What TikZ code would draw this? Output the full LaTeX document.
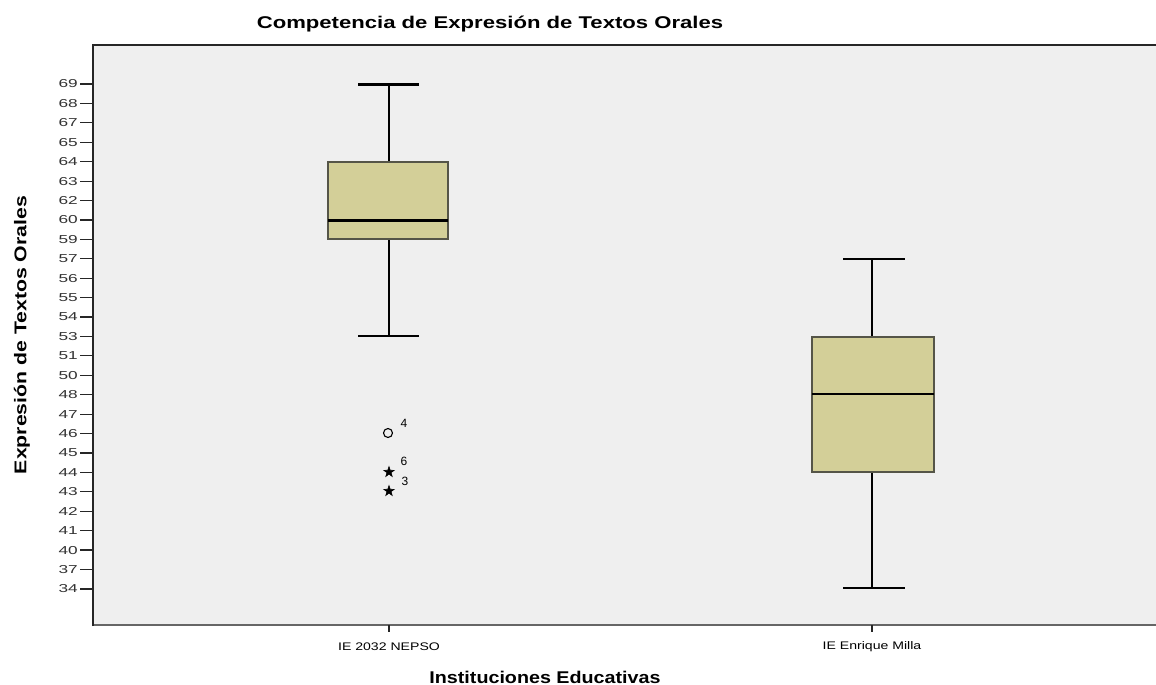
\documentclass[tikz,border=0pt]{standalone}
\usepackage{fontspec}
\setmainfont{Liberation Sans}
\usetikzlibrary{shapes.geometric}
\definecolor{plotbg}{HTML}{EFEFEF}
\definecolor{boxfill}{HTML}{D3CF98}
\definecolor{boxline}{HTML}{555548}
\begin{document}
\begin{tikzpicture}[x=1pt,y=-1pt,
  ticklab/.style={anchor=east,font=\fontsize{11.5}{12}\selectfont,text=black!80,inner sep=0pt},
  tickmark/.style={line width=1.2pt,black!85},
  boxstyle/.style={fill=boxfill,draw=boxline,line width=1.2pt},
  whisk/.style={line width=1.6pt,black},
  medline/.style={line width=3pt,black},
  catlab/.style={font=\fontsize{11}{12}\selectfont,inner sep=0pt},
  outlab/.style={font=\fontsize{12}{13}\selectfont,inner sep=0pt},
  bigtext/.style={font=\bfseries\fontsize{17}{20}\selectfont},
  starmark/.style={star,star points=5,star point ratio=2.6,draw,fill=black,line width=0.6pt,minimum size=11pt,inner sep=0pt},
  circmark/.style={circle,draw,line width=1.1pt,minimum size=9pt,inner sep=0pt}]
\useasboundingbox (0,0) rectangle (1156,685);
\fill[white] (0,0) rectangle (1156,685);
% plot area
\fill[plotbg] (93,45) rectangle (1156,625);
\draw[line width=1.5pt,black!60] (93,625) -- (1156,625);
\draw[line width=2pt,black!85] (93,626) -- (93,45) -- (1156,45);
% title and axis labels
\node[bigtext] (title) at (490,24) {\scalebox{1.3}[1]{Competencia de Expresión de Textos Orales}};
\node[bigtext] (xlab) at (545,677) {\scalebox{1.16}[1]{Instituciones Educativas}};
\node[bigtext,rotate=90] (ylab) at (22,335) {\scalebox{1.25}[1]{Expresión de Textos Orales}};
% y ticks
\foreach \lab [count=\i from 0] in {69,68,67,65,64,63,62,60,59,57,56,55,54,53,51,50,48,47,46,45,44,43,42,41,40,37,34}{
  \coordinate (yt\i) at (93,{84+\i*19.42});
  \draw[tickmark] (80,{84+\i*19.42}) -- (yt\i);
  \node[ticklab] (yl\i) at (78,{84+\i*19.42}) {\scalebox{1.5}[1]{\lab}};
}
% x ticks and category labels
\coordinate (c1) at (389,625);
\coordinate (c2) at (872,625);
\draw[tickmark] (c1) -- ++(0,7);
\draw[tickmark] (c2) -- ++(0,7);
\node[catlab] (cat1) at (389,647) {\scalebox{1.28}[1]{IE 2032 NEPSO}};
\node[catlab] (cat2) at (872,647) {\scalebox{1.28}[1]{IE Enrique Milla}};
% box 1
\draw[whisk] (389,84) -- (389,162);
\draw[medline] (358,84) -- (419,84);
\draw[whisk] (389,239) -- (389,336);
\draw[whisk] (358,336) -- (419,336);
\draw[boxstyle] (328,162) rectangle (448,239);
\draw[medline] (328,220) -- (448,220);
% outliers box 1
\node[circmark] (o4) at (388,433) {};
\node[outlab] (o4l) at (404,423) {4};
\node[starmark] (o6) at (389,472) {};
\node[outlab] (o6l) at (404,461) {6};
\node[starmark] (o3) at (389,491) {};
\node[outlab] (o3l) at (405,481) {3};
% box 2
\draw[whisk] (872,259) -- (872,337);
\draw[whisk] (843,259) -- (905,259);
\draw[whisk] (872,472) -- (872,588);
\draw[whisk] (843,588) -- (905,588);
\draw[boxstyle] (812,337) rectangle (934,472);
\draw[line width=2pt,black] (812,394) -- (934,394);
\end{tikzpicture}
\end{document}
